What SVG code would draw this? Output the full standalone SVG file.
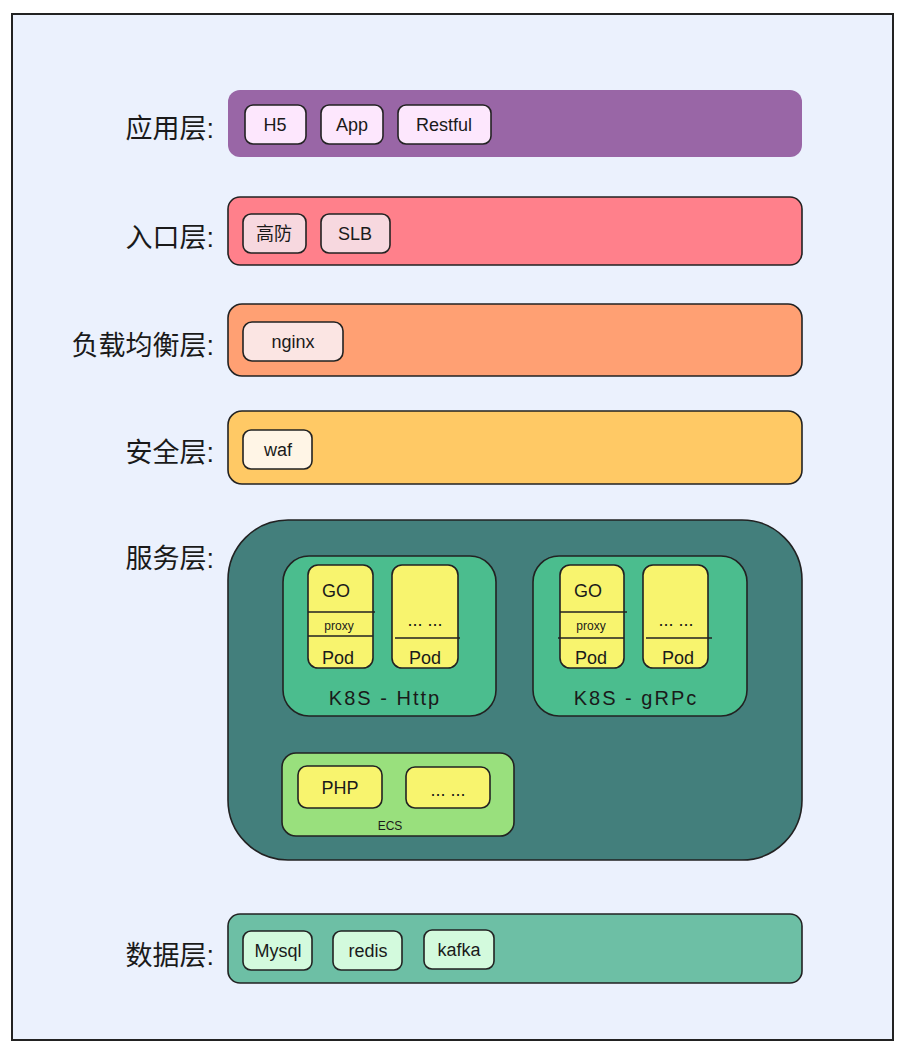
<svg xmlns="http://www.w3.org/2000/svg" width="914" height="1050" viewBox="0 0 914 1050">
<style>
.lbl{font-family:"Liberation Sans","Noto Sans CJK SC",sans-serif;font-size:27px;fill:#1a1a1a;text-anchor:end}
.t{font-family:"Liberation Sans","Noto Sans CJK SC",sans-serif;font-size:18px;fill:#1a1a1a;text-anchor:middle}
.tk{font-family:"Liberation Sans","Noto Sans CJK SC",sans-serif;font-size:20px;fill:#1a1a1a;text-anchor:middle;letter-spacing:2px}
.ts{font-family:"Liberation Sans","Noto Sans CJK SC",sans-serif;font-size:12px;fill:#1a1a1a;text-anchor:middle}
.s{stroke:#222;stroke-width:1.6}
.item{stroke:#222;stroke-width:1.6}
</style>
<rect x="0" y="0" width="914" height="1050" fill="#ffffff"/>
<rect id="frame" x="12" y="14" width="881" height="1026" fill="#ebf1fd" stroke="#222" stroke-width="2"/>

<g id="layer-app">
<text class="lbl" x="214" y="138">应用层:</text>
<rect x="228" y="90" width="574" height="67" rx="12" fill="#9966a6"/>
<g id="app-h5"><rect class="item" x="245" y="105" width="61" height="39" rx="8" fill="#fde7fd"/><text class="t" x="275" y="131">H5</text></g>
<g id="app-app"><rect class="item" x="321" y="105" width="62" height="39" rx="8" fill="#fde7fd"/><text class="t" x="352" y="131">App</text></g>
<g id="app-restful"><rect class="item" x="398" y="105" width="93" height="39" rx="8" fill="#fde7fd"/><text class="t" x="444" y="131">Restful</text></g>
</g>

<g id="layer-entry">
<text class="lbl" x="214" y="247">入口层:</text>
<rect class="s" x="228" y="197" width="574" height="68" rx="12" fill="#ff808b"/>
<g id="entry-gf"><rect class="item" x="243" y="214" width="63" height="39" rx="8" fill="#f7d8df"/><text class="t" x="274" y="240">高防</text></g>
<g id="entry-slb"><rect class="item" x="321" y="214" width="69" height="39" rx="8" fill="#f7d8df"/><text class="t" x="355" y="240">SLB</text></g>
</g>

<g id="layer-lb">
<text class="lbl" x="214" y="355">负载均衡层:</text>
<rect class="s" x="228" y="304" width="574" height="72" rx="14" fill="#ffa073"/>
<g id="lb-nginx"><rect class="item" x="243" y="322" width="100" height="39" rx="9" fill="#fbe5e3"/><text class="t" x="293" y="348">nginx</text></g>
</g>

<g id="layer-sec">
<text class="lbl" x="214" y="462">安全层:</text>
<rect class="s" x="228" y="411" width="574" height="73" rx="14" fill="#ffc965"/>
<g id="sec-waf"><rect class="item" x="243" y="430" width="69" height="39" rx="8" fill="#fff5e6"/><text class="t" x="278" y="456">waf</text></g>
</g>

<g id="layer-svc">
<text class="lbl" x="214" y="568">服务层:</text>
<rect class="s" x="228" y="520" width="574" height="340" rx="60" fill="#437f7c"/>
<g id="k8s-http">
<rect class="s" x="283" y="556" width="213" height="160" rx="26" fill="#4bbd8e"/>
<rect class="s" x="308" y="565" width="65" height="103" rx="10" fill="#f8f46e"/>
<line class="s" x1="308" y1="612" x2="375" y2="612"/>
<line class="s" x1="308" y1="636" x2="373" y2="636"/>
<text class="t" x="336" y="597">GO</text>
<text class="ts" x="339" y="630">proxy</text>
<text class="t" x="338" y="664">Pod</text>
<rect class="s" x="392" y="565" width="66" height="103" rx="10" fill="#f8f46e"/>
<line class="s" x1="395" y1="638" x2="460" y2="638"/>
<text class="t" x="425" y="626">... ...</text>
<text class="t" x="425" y="664">Pod</text>
<text class="tk" x="385" y="705">K8S - Http</text>
</g>
<g id="k8s-grpc">
<rect class="s" x="533" y="556" width="214" height="160" rx="26" fill="#4bbd8e"/>
<rect class="s" x="560" y="565" width="64" height="103" rx="10" fill="#f8f46e"/>
<line class="s" x1="560" y1="612" x2="627" y2="612"/>
<line class="s" x1="558" y1="638" x2="624" y2="638"/>
<text class="t" x="588" y="597">GO</text>
<text class="ts" x="591" y="630">proxy</text>
<text class="t" x="591" y="664">Pod</text>
<rect class="s" x="643" y="565" width="65" height="103" rx="10" fill="#f8f46e"/>
<line class="s" x1="646" y1="638" x2="712" y2="638"/>
<text class="t" x="676" y="626">... ...</text>
<text class="t" x="678" y="664">Pod</text>
<text class="tk" x="636" y="705">K8S - gRPc</text>
</g>
<g id="ecs">
<rect class="s" x="282" y="753" width="232" height="83" rx="14" fill="#99e07d"/>
<rect class="s" x="298" y="766" width="84" height="42" rx="9" fill="#f8f46e"/>
<text class="t" x="340" y="794">PHP</text>
<rect class="s" x="406" y="767" width="84" height="41" rx="9" fill="#f8f46e"/>
<text class="t" x="448" y="796">... ...</text>
<text class="ts" x="390" y="830">ECS</text>
</g>
</g>

<g id="layer-data">
<text class="lbl" x="214" y="965">数据层:</text>
<rect class="s" x="228" y="914" width="574" height="69" rx="12" fill="#6dbfa5"/>
<g id="data-mysql"><rect class="item" x="243" y="931" width="69" height="39" rx="8" fill="#d3fadd"/><text class="t" x="278" y="957">Mysql</text></g>
<g id="data-redis"><rect class="item" x="333" y="931" width="69" height="39" rx="8" fill="#d3fadd"/><text class="t" x="368" y="957">redis</text></g>
<g id="data-kafka"><rect class="item" x="424" y="930" width="70" height="39" rx="8" fill="#d3fadd"/><text class="t" x="459" y="956">kafka</text></g>
</g>

<g id="connectors"></g>
</svg>
